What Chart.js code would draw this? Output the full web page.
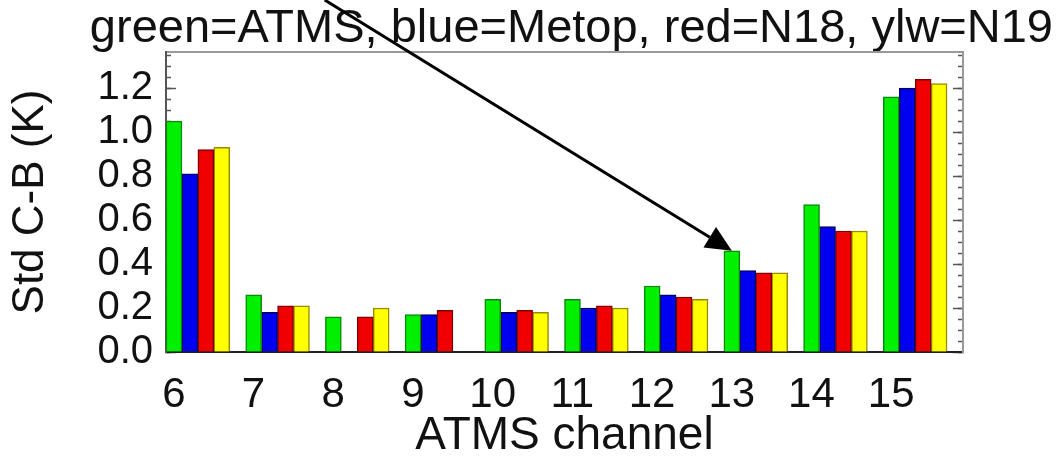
<!DOCTYPE html>
<html>
<head>
<meta charset="utf-8">
<script src="https://cdn.jsdelivr.net/npm/chart.js@4/dist/chart.umd.min.js"></script>
<style>
body{margin:0;background:#fff}
#wrap{width:1059px;height:467px}
</style>
</head>
<body>
<div id="wrap"><canvas id="chart"></canvas></div>
<script>

const canales = ['6','7','8','9','10','11','12','13','14','15']

const atms  = [1.05, 0.26, 0.16, 0.17, 0.24, 0.24, 0.30, 0.46, 0.67, 1.16]
const metop = [0.81, 0.18, null, 0.17, 0.18, 0.20, 0.26, 0.37, 0.57, 1.20]
const n18   = [0.92, 0.21, 0.16, 0.19, 0.19, 0.21, 0.25, 0.36, 0.55, 1.24]
const n19   = [0.93, 0.21, 0.20, null, 0.18, 0.20, 0.24, 0.36, 0.55, 1.22]

const titulo = 'green=ATMS, blue=Metop, red=N18, ylw=N19'

const fuente = "'Liberation Sans', Arial, sans-serif"
const ymax = 1.364

// flecha que apunta a la barra verde del canal 13
const flecha = {
id:'flecha',
afterDraw(chart){
const bar = chart.getDatasetMeta(0).data[7]
if(!bar) return
const ctx = chart.ctx
const tx = bar.x, ty = bar.y
const pendiente = 0.616
const sx = tx - ty/pendiente, sy = 0
const ang = Math.atan2(ty-sy, tx-sx)
const largo = 26, ancho = 12
const bx = tx - largo*Math.cos(ang), by = ty - largo*Math.sin(ang)
ctx.save()
ctx.strokeStyle = '#000'
ctx.lineWidth = 3
ctx.beginPath()
ctx.moveTo(sx,sy)
ctx.lineTo(bx,by)
ctx.stroke()
ctx.fillStyle = '#000'
ctx.beginPath()
ctx.moveTo(tx,ty)
ctx.lineTo(bx + ancho*Math.sin(ang), by - ancho*Math.cos(ang))
ctx.lineTo(bx - ancho*Math.sin(ang), by + ancho*Math.cos(ang))
ctx.closePath()
ctx.fill()
ctx.restore()
}
}

function serie(label, data, color, borde){
return {
label,
data,
backgroundColor: color,
borderColor: borde,
borderWidth: 1.5
}
}

// eje vertical solo con marcas hacia dentro (sin numeros)
function ejeMarcas(pos, paso, largo, ancho, peso, borde){
return {
min:0,
max:ymax,
position:pos,
weight:peso,
grid:{drawOnChartArea:false, drawTicks:true, tickLength:-largo, tickColor:'#555', tickWidth:1.5},
border:{display:borde, color:'#999', width:2},
ticks:{display:false, stepSize:paso, includeBounds:false},
afterFit(s){ s.width = ancho }
}
}

new Chart(document.getElementById('chart'), {
type:'bar',
data:{
labels: canales,
datasets:[
serie('ATMS', atms, '#00f000', '#0a8a0a'),
serie('Metop', metop, '#0000f0', '#00006a'),
serie('N18', n18, '#f00000', '#800000'),
serie('N19', n19, '#ffff00', '#9a8a00'),
// hueco vacio para que el grupo quede a la izquierda
{label:'', data:[], backgroundColor:'rgba(0,0,0,0)'}
]
},
options:{
responsive:true,
maintainAspectRatio:false,
animation:false,
layout:{padding:{left:0, right:6, top:0, bottom:0}},
datasets:{bar:{categoryPercentage:1.0, barPercentage:1.0}},
plugins:{
legend:{display:false},
tooltip:{enabled:false},
title:{
display:true,
text: titulo,
align:'end',
color:'#111',
font:{family:fuente, size:47, weight:'normal', lineHeight:1.0},
padding:{top:6, bottom:-1}
}
},
scales:{
x:{
type:'category',
position:'bottom',
grid:{drawOnChartArea:false, drawTicks:false},
border:{display:true, color:'#222', width:2},
ticks:{color:'#111', font:{family:fuente, size:42, lineHeight:1.0}, padding:22, labelOffset:-32, maxRotation:0, autoSkip:false},
title:{display:true, text:'ATMS channel', color:'#111', font:{family:fuente, size:46, lineHeight:1.0}, padding:{top:0, bottom:8}},
afterFit(s){ s.height = 115 }
},
xTop:{
type:'category',
position:'top',
grid:{drawOnChartArea:false, drawTicks:false},
border:{display:true, color:'#999', width:2},
ticks:{display:false},
afterFit(s){ s.height = 0 }
},
y:{
min:0,
max:ymax,
position:'left',
weight:0,
grid:{drawOnChartArea:false, drawTicks:true, tickLength:-10, tickColor:'#555', tickWidth:1.5},
border:{display:true, color:'#555', width:2},
ticks:{
stepSize:0.2,
includeBounds:false,
padding:23,
color:'#111',
font:{family:fuente, size:40, lineHeight:1.0},
callback:v=>v.toFixed(1)
},
title:{display:true, text:'Std C-B (K)', color:'#111', font:{family:fuente, size:44, lineHeight:1.0}, padding:{top:9, bottom:0}},
afterFit(s){ s.width = 166 }
},
yMenor: ejeMarcas('left', 0.05, 5, 0, -1, false),
yDer: ejeMarcas('right', 0.2, 10, 90, 0, true),
yDerMenor: ejeMarcas('right', 0.05, 5, 0, -1, false)
}
},
plugins:[flecha]
})

</script>
</body>
</html>
